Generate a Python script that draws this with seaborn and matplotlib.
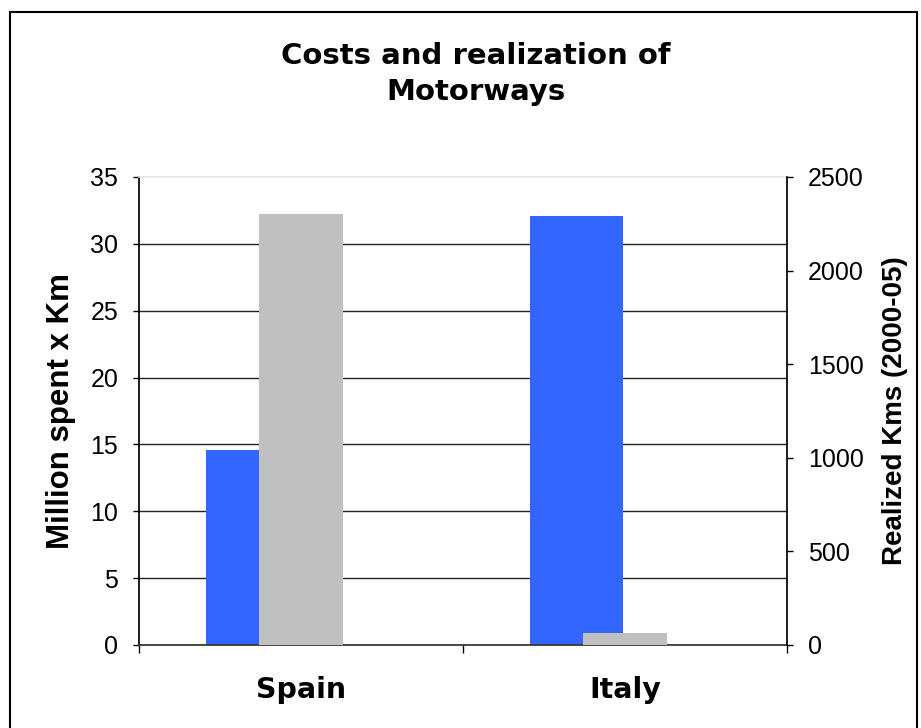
import matplotlib
matplotlib.use('Agg')
import matplotlib.pyplot as plt
import seaborn as sns
from matplotlib.patches import Rectangle
from matplotlib import font_manager

# data
countries = ['Spain', 'Italy']
cost_per_km = [14.6, 32.1]        # million spent x km (left axis)
realized_kms = [2305, 66]         # realized kms 2000-05 (right axis)
cost_ticks = list(range(0, 36, 5))
km_ticks = list(range(0, 2501, 500))

blue = '#3366FF'
grey = '#C0C0C0'

sns.set_theme(style='white')
plt.rcParams['font.family'] = ['Liberation Sans', 'DejaVu Sans']
plt.rcParams['text.color'] = 'black'
plt.rcParams['axes.labelcolor'] = 'black'
plt.rcParams['xtick.color'] = 'black'
plt.rcParams['ytick.color'] = 'black'

# the plain (not narrow) bold Liberation Sans file
bold_file = None
for f in font_manager.fontManager.ttflist:
    if f.name == 'Liberation Sans' and f.weight in (700, 'bold') and f.style == 'normal' \
            and 'Narrow' not in f.fname:
        bold_file = f.fname
if bold_file:
    lab_font = lambda size: font_manager.FontProperties(fname=bold_file, size=size)
else:
    lab_font = lambda size: font_manager.FontProperties(family='DejaVu Sans', weight='bold', size=size)

fig = plt.figure(figsize=(9.21, 7.28), dpi=100)
ax = fig.add_axes([139/921, 1-645/728, (787-139)/921, (645-177)/728])

# primary series, shifted left as in the Excel overlap layout
sns.barplot(x=countries, y=cost_per_km, color=blue, saturation=1,
            width=0.286, linewidth=0, ax=ax)
for p in ax.patches:
    p.set_x(p.get_x() - 0.15)

ax.set_ylim(0, 35)
ax.set_yticks(cost_ticks)
ax.set_xlim(-0.5, 1.5)
ax.set_axisbelow(True)
ax.yaxis.grid(True, color='#222222', lw=1)
ax.get_ygridlines()[-1].set_visible(False)
ax.set_xticks([0, 1])
ax.set_xticklabels(countries, fontsize=20.5, fontweight='bold', family='DejaVu Sans')
ax.set_xticks([-0.5, 0.5, 1.5], minor=True)
ax.tick_params(axis='x', which='major', length=0, pad=22)
ax.tick_params(axis='x', which='minor', length=6, width=1, color='black', direction='out', bottom=True)
ax.tick_params(axis='y', length=4, width=1, color='black', direction='out', left=True,
               labelsize=18, pad=11)
ax.set_xlabel('')
ax.set_ylabel('Million spent x Km', fontproperties=lab_font(22.5), labelpad=10)
ax.spines['left'].set_color('black')
ax.spines['bottom'].set_color('#333333')
ax.spines['top'].set_color('#e6e6e6')
ax.spines['right'].set_visible(False)

# secondary series on the right axis
ax2 = ax.twinx()
sns.barplot(x=countries, y=realized_kms, color=grey, saturation=1,
            width=0.26, linewidth=0, ax=ax2)
ax2.set_xlim(-0.5, 1.5)
ax2.set_ylim(0, 2500)
ax2.set_yticks(km_ticks)
ax2.xaxis.set_visible(False)
ax2.tick_params(axis='y', length=4, width=1, color='black', direction='out', right=True,
                labelsize=18, pad=11)
ax2.set_ylabel('Realized Kms (2000-05)', fontproperties=lab_font(20), labelpad=13)
for s in ['top', 'left', 'bottom']:
    ax2.spines[s].set_visible(False)
ax2.spines['right'].set_color('black')

fig.text(476/921, 1-74/728, 'Costs and realization of\nMotorways', ha='center', va='center',
         fontsize=21, fontweight='bold', family='DejaVu Sans', linespacing=1.35, color='black')

fig.patches.append(Rectangle((10/921, -0.01), 907/921, 1-12/728+0.01, transform=fig.transFigure,
                             fill=False, edgecolor='black', lw=1.5))

fig.savefig('out.png', dpi=100)
